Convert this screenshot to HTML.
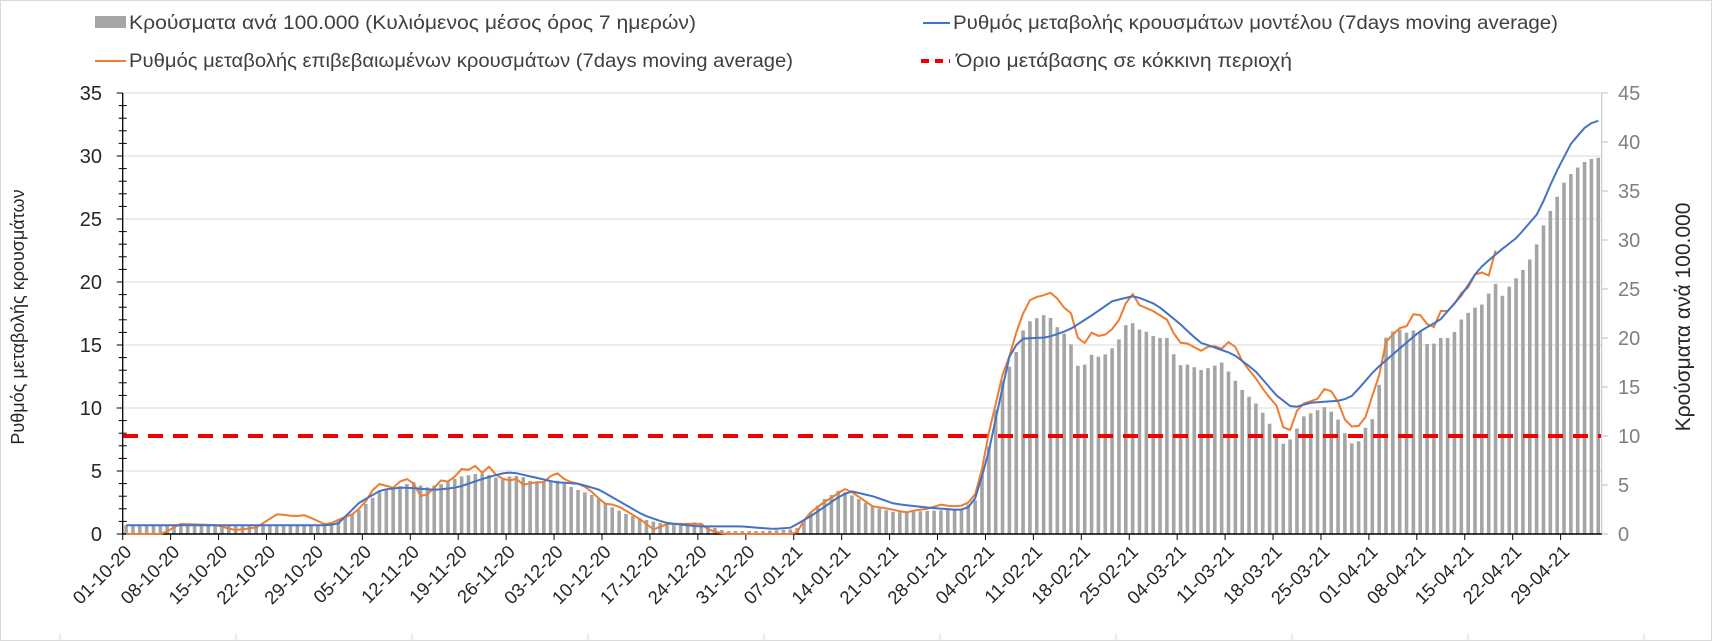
<!DOCTYPE html>
<html><head><meta charset="utf-8"><style>
html,body{margin:0;padding:0;background:#fff;}
svg{display:block;font-family:"Liberation Sans",sans-serif;}
</style></head><body>
<svg id="c" width="1712" height="641" viewBox="0 0 1712 641" xmlns="http://www.w3.org/2000/svg">
<rect x="0.5" y="0.5" width="1711" height="640" fill="#fff" stroke="#d9d9d9"/>
<g id="grid"></g>
<g id="bars"></g>
<g id="axes"></g>
<line x1="123" y1="436" x2="1601" y2="436" stroke="#f00000" stroke-width="4" stroke-dasharray="15,10"/>
<polyline id="orange" fill="none" stroke="#ed7d31" stroke-width="2"/>
<polyline id="blue" fill="none" stroke="#4472c4" stroke-width="2"/>
<g id="labels"></g>
<rect x="95" y="16" width="31" height="12" fill="#a5a5a5"/>
<text x="129" y="29" font-size="19" fill="#404040" textLength="567" lengthAdjust="spacingAndGlyphs">Κρούσματα ανά 100.000 (Κυλιόμενος μέσος όρος 7 ημερών)</text>
<line x1="95" y1="61" x2="126" y2="61" stroke="#ed7d31" stroke-width="2"/>
<text x="129" y="67" font-size="19" fill="#404040" textLength="664" lengthAdjust="spacingAndGlyphs">Ρυθμός μεταβολής επιβεβαιωμένων κρουσμάτων (7days moving average)</text>
<line x1="923" y1="23" x2="950" y2="23" stroke="#4472c4" stroke-width="2"/>
<text x="953" y="29" font-size="19" fill="#404040" textLength="605" lengthAdjust="spacingAndGlyphs">Ρυθμός μεταβολής κρουσμάτων μοντέλου (7days moving average)</text>
<line x1="921" y1="61" x2="950" y2="61" stroke="#f00000" stroke-width="4" stroke-dasharray="8,6"/>
<text x="956" y="67" font-size="19" fill="#404040" textLength="336" lengthAdjust="spacingAndGlyphs">Όριο μετάβασης σε κόκκινη περιοχή</text>
<text transform="translate(24,317) rotate(-90)" text-anchor="middle" font-size="18" fill="#262626">Ρυθμός μεταβολής κρουσμάτων</text>
<text transform="translate(1690,317) rotate(-90)" text-anchor="middle" font-size="21" fill="#262626">Κρούσματα ανά 100.000</text>
</svg>
<script>
var NS="http://www.w3.org/2000/svg";
function el(t,a,p){var e=document.createElementNS(NS,t);for(var k in a)e.setAttribute(k,a[k]);document.getElementById(p).appendChild(e);return e;}
var X0=122.7,DW=1479/216,Y0=534,LS=12.6,RS=9.8;
function mx(xm){return (xm-113)/(1355/216);}
function interp(pts,d){if(d<=pts[0][0])return pts[0][1];for(var i=1;i<pts.length;i++){if(d<=pts[i][0]){var a=pts[i-1],b=pts[i];return a[1]+(b[1]-a[1])*(d-a[0])/(b[0]-a[0]);}}return pts[pts.length-1][1];}
function conv(a){var r=[];for(var i=0;i<a.length;i+=2)r.push([mx(a[i]),a[i+1]]);return r;}
var blue=conv([113,0.7,200,0.7,300,0.7,310,0.8,330,2.5,350,3.5,370,3.7,400,3.5,420,3.7,440,4.3,460,4.8,470,4.9,490,4.5,510,4.1,530,4.0,550,3.5,570,2.5,590,1.5,610,0.9,640,0.6,680,0.6,710,0.4,725,0.5,745,1.5,770,3.0,780,3.4,800,3.0,820,2.4,850,2.1,880,1.9,890,2.2,895,3.0,905,6,915,10,925,14,935,15.5,960,15.6,980,16.2,1000,17.3,1020,18.5,1040,18.9,1060,18.2,1080,16.8,1100,15.2,1130,14.3,1150,13.0,1170,11.0,1185,10.0,1200,10.4,1230,10.6,1240,11.0,1260,13,1280,14.5,1300,16.0,1320,17,1340,19,1355,21,1375,22.5,1390,23.5,1410,25.5,1425,28.5,1440,31,1455,32.5,1465,32.8]);
var orange=conv([113,0,150,0,165,0.8,200,0.7,215,0.3,235,0.5,255,1.6,270,1.4,280,1.5,300,0.7,315,1.3,325,1.6,335,2.5,345,3.9,350,4.0,360,3.6,370,4.4,378,4.3,385,3.0,395,3.2,403,4.3,410,4.1,418,4.6,425,5.3,432,5.0,437,5.5,442,4.8,447,5.5,455,4.7,465,4.2,475,4.4,480,3.9,490,4.1,500,4.1,505,4.6,510,4.9,520,4.2,530,4.0,540,3.6,548,2.9,555,2.4,565,2.3,575,1.8,590,1.0,600,0.3,610,0.8,645,0.8,650,0.3,665,0,730,0,740,1.5,755,2.5,765,3.0,773,3.6,778,3.5,790,2.8,800,2.2,815,2.0,830,1.7,840,1.9,850,2.0,865,2.4,870,2.2,880,2.2,888,2.5,897,3.5,905,7.5,912,10,920,13,925,14,935,17,945,18.7,955,18.9,965,19.2,975,18.0,985,17.3,990,14.5,1000,16,1010,15.6,1020,16.3,1030,17.5,1035,19.5,1045,18.1,1055,17.8,1070,17.0,1080,15.2,1090,15.1,1100,14.5,1110,15,1120,14.7,1125,15.3,1132,14.9,1140,13.5,1150,12.5,1160,11.2,1170,10.2,1178,8.0,1185,8.4,1190,10.2,1200,10.5,1210,10.8,1215,11.7,1225,11.0,1230,9.2,1237,8.9,1243,7.8,1248,9.5,1253,9.2,1256,10.8,1262,11.3,1268,15.0,1275,15.7,1285,16.5,1290,16.5,1297,17.7,1300,17.2,1305,17.7,1310,16.0,1315,16.5,1322,18.0,1330,17.5,1337,19.2,1343,19.0,1350,20.5,1357,20.8,1365,20.5,1370,22.5]);
var bars=conv([113,0.9,290,0.9,300,1.0,320,1.8,330,2.5,340,3.5,350,4.5,360,4.6,370,5.0,380,5.3,390,4.7,400,5.0,410,5.2,420,5.8,430,6.0,440,6.2,450,6.0,460,5.5,470,6.0,480,5.8,490,5.2,500,5.4,510,5.5,520,5.0,530,4.5,545,3.9,560,2.8,575,2.0,590,1.5,610,1.0,640,1.2,650,0.8,665,0.3,700,0.3,730,0.5,740,1.8,755,3.5,770,4.5,780,4.0,800,2.8,820,2.2,840,2.3,860,2.4,880,2.5,895,3.5,900,6,905,8,910,11,915,14,920,16,930,18,940,21.5,950,22,960,22.5,970,21,980,20,990,16.5,1000,18.3,1010,18,1020,19,1030,20.5,1035,22.5,1040,21,1050,20.7,1060,20,1070,20,1080,17.2,1090,17.3,1100,16.7,1110,17,1120,17.5,1130,16,1140,14.5,1150,13.5,1160,12,1170,10,1178,9,1185,10,1195,12,1205,12.5,1215,13,1225,12,1235,9.8,1243,8.7,1250,11,1255,10.5,1262,13.5,1270,20,1280,21,1290,20.5,1300,21,1310,19,1320,20,1330,20,1340,22,1350,23,1360,23.5,1370,25.8,1375,24,1385,25.5,1395,26.8,1405,28.5,1415,31.6,1425,33.9,1435,36.2,1445,37.3,1455,38.2,1465,38.4]);
for(var v=5;v<=35;v+=5){var y=Y0-v*LS;el("line",{x1:X0,x2:1601.7,y1:y,y2:y,stroke:"#d9d9d9","stroke-width":1},"grid");}
for(var d=0;d<216;d++){var h=interp(bars,d+0.5)*RS;el("rect",{x:X0+d*DW+1.6,y:Y0-h,width:3.6,height:h,fill:"#a5a5a5"},"bars");}
function pl(pts,maxd){var s=[];for(var d=0;d<=maxd;d++){var v=interp(pts,d+0.5);s.push((X0+(d+0.5)*DW).toFixed(1)+","+(Y0-v*LS).toFixed(1));}return s.join(" ");}
document.getElementById("blue").setAttribute("points",pl(blue,215));
document.getElementById("orange").setAttribute("points",pl(orange,Math.floor(mx(1370))));
el("line",{x1:X0,x2:X0,y1:93,y2:Y0,stroke:"#000","stroke-width":1.3},"axes");
for(var v=0;v<=35;v++){var y=Y0-v*LS;var big=v%5==0;el("line",{x1:X0-(big?6:4),x2:X0+(big?0:4),y1:y,y2:y,stroke:"#000","stroke-width":1},"axes");
 if(big){var t=el("text",{x:102,y:y+7,"text-anchor":"end","font-size":20,fill:"#262626"},"labels");t.textContent=v;}}
el("line",{x1:1601.7,x2:1601.7,y1:93,y2:Y0,stroke:"#bfbfbf","stroke-width":1},"axes");
for(var v=0;v<=45;v+=5){var y=Y0-v*RS;el("line",{x1:1601.7,x2:1608,y1:y,y2:y,stroke:"#bfbfbf","stroke-width":1},"axes");
 var t=el("text",{x:1618,y:y+7,"font-size":20,fill:"#7f7f7f"},"labels");t.textContent=v;}
el("line",{x1:X0,x2:1601.7,y1:Y0,y2:Y0,stroke:"#000","stroke-width":1.5},"axes");
var dates=["01-10-20","08-10-20","15-10-20","22-10-20","29-10-20","05-11-20","12-11-20","19-11-20","26-11-20","03-12-20","10-12-20","17-12-20","24-12-20","31-12-20","07-01-21","14-01-21","21-01-21","28-01-21","04-02-21","11-02-21","18-02-21","25-02-21","04-03-21","11-03-21","18-03-21","25-03-21","01-04-21","08-04-21","15-04-21","22-04-21","29-04-21"];
for(var i=0;i<dates.length;i++){var x=X0+i*7*DW;el("line",{x1:x,x2:x,y1:Y0,y2:Y0+6,stroke:"#000","stroke-width":1},"axes");
 var t=el("text",{transform:"translate("+(x+10)+","+(Y0+19)+") rotate(-45)","text-anchor":"end","font-size":18.5,fill:"#262626"},"labels");t.textContent=dates[i];}
for(var i=0;i<10;i++){var x=60+i*176;el("line",{x1:x,x2:x,y1:633,y2:641,stroke:"#d9d9d9","stroke-width":1},"axes");}
</script>
</body></html>
